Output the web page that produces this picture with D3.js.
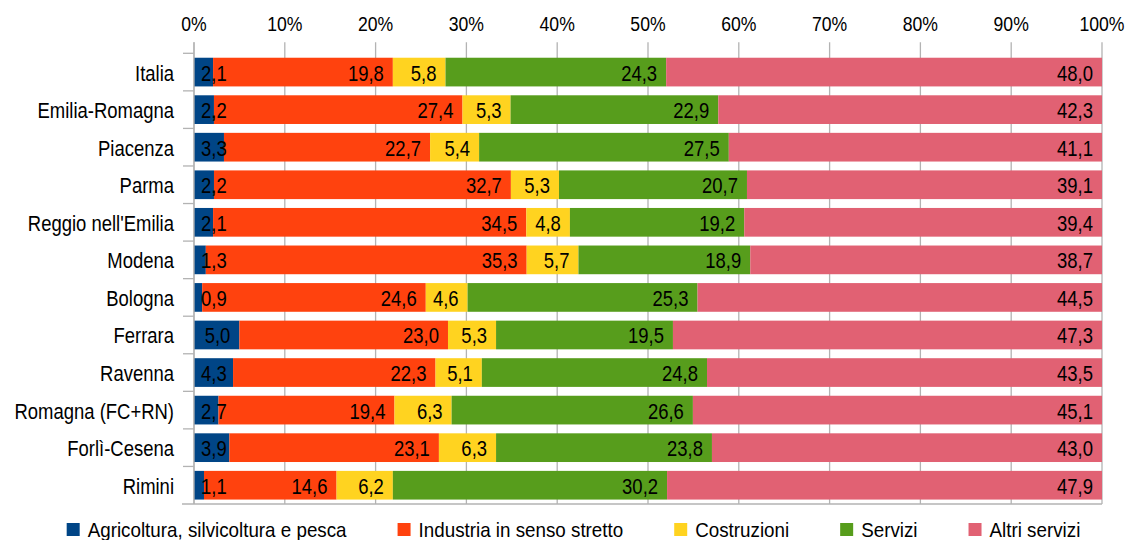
<!DOCTYPE html>
<html>
<head>
<meta charset="utf-8">
<script src="https://cdn.jsdelivr.net/npm/d3@7"></script>
<style>
  body { margin: 0; background: #fff; }
  svg text { font-family: "Liberation Sans", Arial, sans-serif; fill: #000; }
</style>
</head>
<body>
<div id="chart"></div>
<script>
var categories = ["Italia", "Emilia-Romagna", "Piacenza", "Parma", "Reggio nell'Emilia", "Modena",
                  "Bologna", "Ferrara", "Ravenna", "Romagna (FC+RN)", "Forlì-Cesena", "Rimini"];
var seriesNames = ["Agricoltura, silvicoltura e pesca", "Industria in senso stretto", "Costruzioni", "Servizi", "Altri servizi"];
var agricoltura = [2.1, 2.2, 3.3, 2.2, 2.1, 1.3, 0.9, 5.0, 4.3, 2.7, 3.9, 1.1];
var industria   = [19.8, 27.4, 22.7, 32.7, 34.5, 35.3, 24.6, 23.0, 22.3, 19.4, 23.1, 14.6];
var costruzioni = [5.8, 5.3, 5.4, 5.3, 4.8, 5.7, 4.6, 5.3, 5.1, 6.3, 6.3, 6.2];
var servizi     = [24.3, 22.9, 27.5, 20.7, 19.2, 18.9, 25.3, 19.5, 24.8, 26.6, 23.8, 30.2];
var altri       = [48.0, 42.3, 41.1, 39.1, 39.4, 38.7, 44.5, 47.3, 43.5, 45.1, 43.0, 47.9];
var tickValues  = [0, 0.1, 0.2, 0.3, 0.4, 0.5, 0.6, 0.7, 0.8, 0.9, 1];

var colors = ["#004586", "#ff420e", "#ffd320", "#579d1c", "#e16173"];

var width = 1129, height = 540,
    margin = {top: 53.3, right: 27, bottom: 36, left: 194};

// the original uses a narrow font: squeeze Liberation Sans horizontally
var sx = 0.84, sxLegend = 0.94;

var svg = d3.select("#chart").append("svg")
    .attr("width", width)
    .attr("height", height);

function put(sel, x, y, s) {
  sel.attr("transform", "translate(" + x + "," + y + ") scale(" + (s || sx) + ",1)");
}

// build rows for the stack
var cols = [agricoltura, industria, costruzioni, servizi, altri];
var rows = categories.map(function(c, i) {
  var r = {cat: c};
  seriesNames.forEach(function(s, j) { r[s] = cols[j][i]; });
  return r;
});

var stack = d3.stack().keys(seriesNames).offset(d3.stackOffsetExpand);
var layers = stack(rows);

var x = d3.scaleLinear()
    .domain([0, 1])
    .range([margin.left, width - margin.right]);

var y = d3.scaleBand()
    .domain(categories)
    .range([margin.top, height - margin.bottom])
    .paddingInner(0.236)
    .paddingOuter(0.118);

var step = y.step();
var grey = "#b3b3b3";

// gridlines (also the top tick marks)
svg.append("g").selectAll("line")
    .data(tickValues)
  .enter().append("line")
    .attr("x1", function(d) { return x(d); })
    .attr("x2", function(d) { return x(d); })
    .attr("y1", margin.top - 11)
    .attr("y2", height - margin.bottom)
    .attr("stroke", grey)
    .attr("stroke-width", 1.3);

// top tick labels
svg.append("g").selectAll("text")
    .data(tickValues)
  .enter().append("text")
    .attr("text-anchor", "middle")
    .style("font-size", "21px")
    .text(d3.format(".0%"))
    .each(function(d) { put(d3.select(this), x(d), 31); });

// bars
var layer = svg.append("g").selectAll("g")
    .data(layers)
  .enter().append("g")
    .attr("fill", function(d, i) { return colors[i]; });

layer.selectAll("rect")
    .data(function(d) { return d; })
  .enter().append("rect")
    .attr("x", function(d) { return x(d[0]); })
    .attr("width", function(d) { return x(d[1]) - x(d[0]); })
    .attr("y", function(d) { return y(d.data.cat); })
    .attr("height", y.bandwidth());

// left axis line, category ticks, bottom line
var axisG = svg.append("g").attr("stroke", grey).attr("stroke-width", 1.3);
axisG.append("line")
    .attr("x1", x(0)).attr("x2", x(0))
    .attr("y1", margin.top - 11).attr("y2", height - margin.bottom);
axisG.append("line")
    .attr("x1", x(0) - 12).attr("x2", x(1))
    .attr("y1", height - margin.bottom).attr("y2", height - margin.bottom);
axisG.selectAll(".ct")
    .data(categories)
  .enter().append("line")
    .attr("x1", x(0) - 11).attr("x2", x(0))
    .attr("y1", function(d) { return y(d) - (step - y.bandwidth()) / 2; })
    .attr("y2", function(d) { return y(d) - (step - y.bandwidth()) / 2; });

// category labels
svg.append("g").selectAll("text")
    .data(categories)
  .enter().append("text")
    .attr("text-anchor", "end")
    .style("font-size", "22px")
    .text(function(d) { return d; })
    .each(function(d) { put(d3.select(this), x(0) - 20, y(d) + y.bandwidth() / 2 + 8.5); });

// value labels, inside end of each segment
var fmt = function(v) { return v.toFixed(1).replace(".", ","); };
layers.forEach(function(l, j) {
  l.forEach(function(d, i) {
    var t = svg.append("text")
        .style("font-size", "22px")
        .text(fmt(cols[j][i]));
    var w = t.node().getComputedTextLength() * sx;
    var start = x(d[1]) - 9 - w;
    if (start < x(d[0]) + 7) start = x(d[0]) + 7;
    put(t, start, y(d.data.cat) + y.bandwidth() / 2 + 8.5);
  });
});

// legend
var legend = svg.append("g");
var items = legend.selectAll("g")
    .data(seriesNames)
  .enter().append("g");
items.append("rect")
    .attr("width", 13).attr("height", 13)
    .attr("y", 523)
    .attr("fill", function(d, i) { return colors[i]; });
items.append("text")
    .style("font-size", "20px")
    .text(function(d) { return d; })
    .each(function() { put(d3.select(this), 21, 536.7, sxLegend); });
var lx = 0;
items.each(function() {
  var g = d3.select(this);
  g.attr("transform", "translate(" + lx + ",0)");
  lx += 21 + g.select("text").node().getComputedTextLength() * sxLegend + 51;
});
var total = lx - 51;
legend.attr("transform", "translate(" + (573.5 - total / 2) + ",0)");
</script>
</body>
</html>
